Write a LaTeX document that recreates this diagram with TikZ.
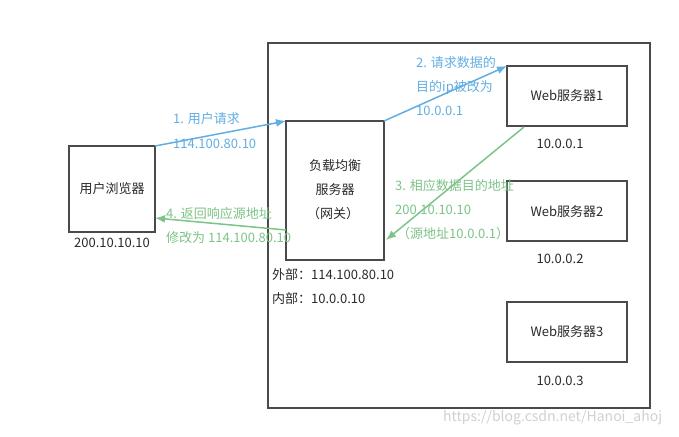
\documentclass[tikz,border=0pt]{standalone}
\usepackage{fontspec}
\setmainfont{Noto Sans CJK SC}
\usetikzlibrary{arrows.meta}
\definecolor{boxc}{HTML}{4A4A4A}
\definecolor{bluec}{HTML}{62AEE3}
\definecolor{greenc}{HTML}{7CC487}
\definecolor{txtc}{HTML}{2A2A2A}
\begin{document}
\begin{tikzpicture}[x=1pt,y=-1pt,
  box/.style={draw=boxc,line width=1.5pt,inner sep=0,outer sep=0,fill=white},
  lbl/.style={inner sep=0,anchor=west,font=\fontsize{13}{15}\selectfont},
  dark/.style={lbl,text=txtc},
  btxt/.style={lbl,text=bluec},
  gtxt/.style={lbl,text=greenc},
  barrow/.style={draw=bluec,line width=1.5pt,-{Latex[length=10pt,width=8pt]}},
  garrow/.style={draw=greenc,line width=1.5pt,-{Latex[length=10pt,width=8pt]}}]
\useasboundingbox (0,0) rectangle (679,436);
\fill[white] (0,0) rectangle (679,436);
% big box
\draw[boxc,line width=1.5pt] (268,43) rectangle (650,408);
% nodes
\node[box,minimum width=86pt,minimum height=86pt] (browser) at (112,189) {};
\node[dark,anchor=center] at (112,189) {用户浏览器};
\node[dark,anchor=center] (bip) at (112,243) {200.10.10.10};
\node[box,minimum width=98pt,minimum height=139pt] (lb) at (335,190.5) {};
\node[dark,anchor=center] at (335,166) {负载均衡};
\node[dark,anchor=center] at (335,190) {服务器};
\node[dark,anchor=center] at (333,214) {（网关）};
\node[dark] (ext) at (272,275) {外部：114.100.80.10};
\node[dark] (int) at (272,299) {内部：10.0.0.10};
\node[box,minimum width=120pt,minimum height=60pt] (w1) at (567,96) {};
\node[dark,anchor=center] at (567,96) {Web服务器1};
\node[dark,anchor=center] (ip1) at (560,144) {10.0.0.1};
\node[box,minimum width=120pt,minimum height=60pt] (w2) at (567,211) {};
\node[dark,anchor=center] at (567,212) {Web服务器2};
\node[dark,anchor=center] (ip2) at (560,259) {10.0.0.2};
\node[box,minimum width=120pt,minimum height=60pt] (w3) at (567,332) {};
\node[dark,anchor=center] at (567,332) {Web服务器3};
\node[dark,anchor=center] (ip3) at (560,381) {10.0.0.3};
% arrows
\draw[barrow] (browser.north east) -- (lb.north west);
\draw[barrow] (lb.north east) -- (w1.north west);
\coordinate (g3s) at (524,127);
\coordinate (g3e) at (386,240);
\draw[garrow] (g3s) -- (g3e);
\coordinate (g4s) at (286,230);
\coordinate (g4e) at (155,218);
\draw[garrow] (g4s) -- (g4e);
% labels
\node[btxt] at (173,119) {1. 用户请求};
\node[btxt] at (173,144) {114.100.80.10};
\node[btxt] at (416,63) {2. 请求数据的};
\node[btxt] at (416,88) {目的ip被改为};
\node[btxt] at (416,111) {10.0.0.1};
\node[gtxt] at (395,186) {3. 相应数据目的地址};
\node[gtxt] at (395,210) {200.10.10.10};
\node[gtxt] at (397,234) {（源地址10.0.0.1）};
\node[gtxt] at (166,214) {4. 返回响应源地址};
\node[gtxt] at (166,238) {修改为 114.100.80.10};
\node[lbl,text=black!18,font=\fontsize{14}{16}\selectfont] at (443,418) {https://blog.csdn.net/Hanoi\_ahoj};
\end{tikzpicture}
\end{document}
